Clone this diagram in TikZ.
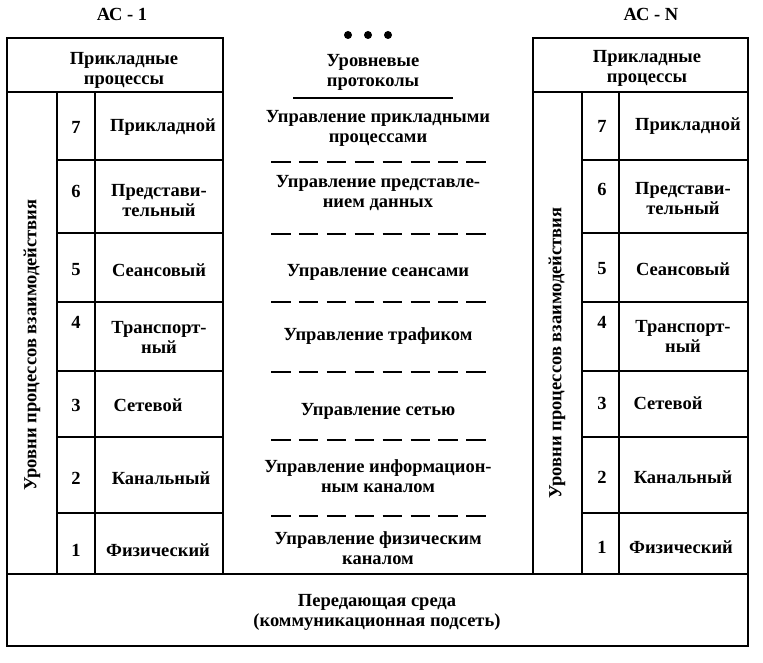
\documentclass[tikz,border=0pt]{standalone}
\usepackage{fontspec}
\setmainfont{Liberation Serif}
\begin{document}
\begin{tikzpicture}[x=1pt,y=-1pt,
  lbl/.style={font=\fontsize{18.5}{20}\selectfont\bfseries, align=center, inner sep=0pt},
  frame/.style={line width=2.4pt},
  sepline/.style={line width=2.4pt, dash pattern=on 19.5pt off 8.4pt},
  dot/.style={circle, fill=black, inner sep=0pt, minimum size=8pt},
]
\useasboundingbox[fill=white] (0,0) rectangle (763,663);

% ---------- frames ----------
% left station
\draw[frame] (7,38) rectangle (223,574);
\draw[frame] (7,92) -- (223,92);
\draw[frame] (57,92) -- (57,574);
\draw[frame] (95,92) -- (95,574);
\foreach \y in {160,233,302,371,437,513}
  \draw[frame] (57,\y) -- (223,\y);
% right station
\draw[frame] (533,38) rectangle (748,574);
\draw[frame] (533,92) -- (748,92);
\draw[frame] (582,92) -- (582,574);
\draw[frame] (619,92) -- (619,574);
\foreach \y in {160,233,302,371,437,513}
  \draw[frame] (582,\y) -- (748,\y);
% bottom medium
\draw[frame] (7,574) rectangle (748,646);

% ---------- titles ----------
\node[lbl] (ac1) at (122,14) {АС - 1};
\node[lbl] (acn) at (651,14) {АС - N};
\node[dot] (d1) at (348,35) {};
\node[dot] (d2) at (368,35) {};
\node[dot] (d3) at (388,35) {};

% ---------- left station text ----------
\node[lbl] (lhead) at (124,70) {Прикладные\\процессы};
\node[lbl, rotate=90] (lvert) at (32,345) {Уровни процессов взаимодействия};
\node[lbl] (ln7) at (76,127) {7};
\node[lbl] (ln6) at (76,191) {6};
\node[lbl] (ln5) at (76,270) {5};
\node[lbl] (ln4) at (76,322) {4};
\node[lbl] (ln3) at (76,405) {3};
\node[lbl] (ln2) at (76,478) {2};
\node[lbl] (ln1) at (76,550) {1};
\node[lbl] (lt7) at (163,127) {Прикладной};
\node[lbl] (lt6) at (159,201) {Представи-\\тельный};
\node[lbl] (lt5) at (159,270) {Сеансовый};
\node[lbl] (lt4) at (159,337) {Транспорт-\\ный};
\node[lbl] (lt3) at (148,405) {Сетевой};
\node[lbl] (lt2) at (161,478) {Канальный};
\node[lbl] (lt1) at (158,550) {Физический};

% ---------- right station text ----------
\node[lbl] (rhead) at (647,68) {Прикладные\\процессы};
\node[lbl, rotate=90] (rvert) at (557,353) {Уровни процессов взаимодействия};
\node[lbl] (rn7) at (602,126) {7};
\node[lbl] (rn6) at (602,189) {6};
\node[lbl] (rn5) at (602,269) {5};
\node[lbl] (rn4) at (602,322) {4};
\node[lbl] (rn3) at (602,403) {3};
\node[lbl] (rn2) at (602,477) {2};
\node[lbl] (rn1) at (602,547) {1};
\node[lbl] (rt7) at (688,126) {Прикладной};
\node[lbl] (rt6) at (683,199) {Представи-\\тельный};
\node[lbl] (rt5) at (683,269) {Сеансовый};
\node[lbl] (rt4) at (683,336) {Транспорт-\\ный};
\node[lbl] (rt3) at (668,403) {Сетевой};
\node[lbl] (rt2) at (683,477) {Канальный};
\node[lbl] (rt1) at (681,547) {Физический};

% ---------- protocols ----------
\node[lbl] (phead) at (373,72) {Уровневые\\протоколы};
\coordinate (hl) at (293,98);
\coordinate (hr) at (453,98);
\draw[line width=2.4pt] (hl) -- (hr);
\node[lbl] (p7) at (378,128) {Управление прикладными\\процессами};
\node[lbl] (p6) at (378,193) {Управление представле-\\нием данных};
\node[lbl] (p5) at (378,272) {Управление сеансами};
\node[lbl] (p4) at (378,336) {Управление трафиком};
\node[lbl] (p3) at (378,411) {Управление сетью};
\node[lbl] (p2) at (378,476) {Управление информацион-\\ным каналом};
\node[lbl] (p1) at (378,548) {Управление физическим\\каналом};
\foreach \y [count=\i] in {162,234,302,372,440,516} {
  \coordinate (sa\i) at (271,\y);
  \coordinate (sb\i) at (488,\y);
  \draw[sepline] (sa\i) -- (sb\i);
}

% ---------- medium ----------
\node[lbl] (medium) at (377,612) {Передающая среда\\(коммуникационная подсеть)};
\end{tikzpicture}
\end{document}
